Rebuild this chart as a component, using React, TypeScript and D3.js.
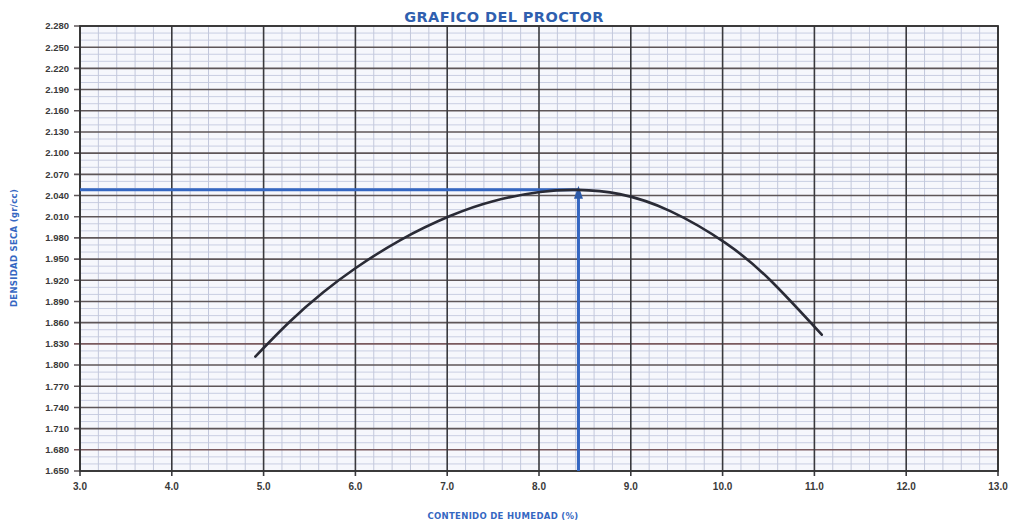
import React from "react";
import * as d3 from "d3";

// ---- data ----
const xTickValues = [3, 4, 5, 6, 7, 8, 9, 10, 11, 12, 13];
const xTickLabels = ["3.0", "4.0", "5.0", "6.0", "7.0", "8.0", "9.0", "10.0", "11.0", "12.0", "13.0"];
const yTickValues = [1.65, 1.68, 1.71, 1.74, 1.77, 1.8, 1.83, 1.86, 1.89, 1.92, 1.95, 1.98, 2.01, 2.04, 2.07, 2.1, 2.13, 2.16, 2.19, 2.22, 2.25, 2.28];
const yTickLabels = ["1.650", "1.680", "1.710", "1.740", "1.770", "1.800", "1.830", "1.860", "1.890", "1.920", "1.950", "1.980", "2.010", "2.040", "2.070", "2.100", "2.130", "2.160", "2.190", "2.220", "2.250", "2.280"];
const curveMoisture = [4.91, 5.29, 5.65, 6.0, 6.49, 7.03, 7.5, 8.01, 8.42, 8.88, 9.43, 10.03, 10.52, 11.08];
const curveDensity = [1.812, 1.862, 1.903, 1.937, 1.977, 2.011, 2.032, 2.045, 2.048, 2.042, 2.018, 1.973, 1.92, 1.843];
const optimumMoisture = 8.43;
const maxDensity = 2.048;

const W = 1011;
const H = 522;
const left = 80, right = 998, top = 26, bottom = 471;

export default function App() {
  const x = d3.scaleLinear().domain([3, 13]).range([left, right]);
  const y = d3.scaleLinear().domain([1.65, 2.28]).range([bottom, top]);

  const minorX = d3.range(3, 13.001, 0.2).filter((v) => Math.abs(v - Math.round(v)) > 0.01);
  const minorY = d3.range(165, 228.001, 1).map((v) => v / 100).filter((v) => {
    const k = Math.round((v - 1.65) / 0.01);
    return k % 3 !== 0;
  });

  const pts = curveMoisture.map((m, i) => [m, curveDensity[i]] as [number, number]);
  const line = d3.line<[number, number]>().x((d) => x(d[0])).y((d) => y(d[1])).curve(d3.curveNatural);

  const blue = "#3567c2";
  const px = x(optimumMoisture);
  const py = y(maxDensity);

  return (
    <svg width={W} height={H} style={{ position: "absolute", left: 0, top: 0, background: "#fff" }}>
      <rect x={left} y={top} width={right - left} height={bottom - top} fill="#f6f7fc" />
      {minorY.map((v, i) => (
        <line key={"my" + i} x1={left} x2={right} y1={y(v)} y2={y(v)} stroke="#c9cee2" strokeWidth={1} />
      ))}
      {minorX.map((v, i) => (
        <line key={"mx" + i} x1={x(v)} x2={x(v)} y1={top} y2={bottom} stroke="#c3c8dc" strokeWidth={1} />
      ))}
      {yTickValues.map((v, i) => (
        <line key={"gy" + i} x1={left - 6} x2={right} y1={y(v)} y2={y(v)} stroke={i === 6 || i === 1 ? "#7a5a5e" : "#5e5658"} strokeWidth={1.6} />
      ))}
      {xTickValues.map((v, i) => (
        <line key={"gx" + i} x1={x(v)} x2={x(v)} y1={top} y2={bottom + 5} stroke="#3a3a3e" strokeWidth={1.6} />
      ))}
      <rect x={left} y={top} width={right - left} height={bottom - top} fill="none" stroke="#333" strokeWidth={1.8} />

      {/* blue guide lines */}
      <line x1={left} x2={px} y1={py} y2={py} stroke={blue} strokeWidth={3} />
      <line x1={px} x2={px} y1={bottom} y2={py + 4} stroke={blue} strokeWidth={3} />
      <path d={`M${px - 4.5},${py + 9} L${px},${py - 4} L${px + 4.5},${py + 9} Z`} fill="#2d5aa8" />

      {/* compaction curve */}
      <path d={line(pts) || ""} fill="none" stroke="#2a2b36" strokeWidth={2.6} strokeLinecap="round" />

      {/* tick labels */}
      {yTickValues.map((v, i) => (
        <text key={"ty" + i} x={69} y={y(v)} dy="0.35em" textAnchor="end" fontFamily="Liberation Sans, Arial, sans-serif" fontWeight="bold" fontSize={9.5} fill="#3a3a3a">
          {yTickLabels[i]}
        </text>
      ))}
      {xTickValues.map((v, i) => (
        <text key={"tx" + i} x={x(v)} y={490} textAnchor="middle" fontFamily="Liberation Sans, Arial, sans-serif" fontWeight="bold" fontSize={10} fill="#3a3a3a">
          {xTickLabels[i]}
        </text>
      ))}

      {/* titles */}
      <text x={504} y={22} textAnchor="middle" fontFamily="DejaVu Sans, sans-serif" fontWeight="bold" fontSize={14.5} letterSpacing={0.4} fill="#2f5faf">
        GRAFICO DEL PROCTOR
      </text>
      <text x={503} y={519} textAnchor="middle" fontFamily="DejaVu Sans, sans-serif" fontWeight="bold" fontSize={8.5} letterSpacing={0.3} fill="#3567c2">
        CONTENIDO DE HUMEDAD (%)
      </text>
      <text transform="translate(17,248) rotate(-90)" textAnchor="middle" fontFamily="DejaVu Sans, sans-serif" fontWeight="bold" fontSize={8.5} letterSpacing={0.3} fill="#3567c2">
        DENSIDAD SECA (gr/cc)
      </text>
    </svg>
  );
}
